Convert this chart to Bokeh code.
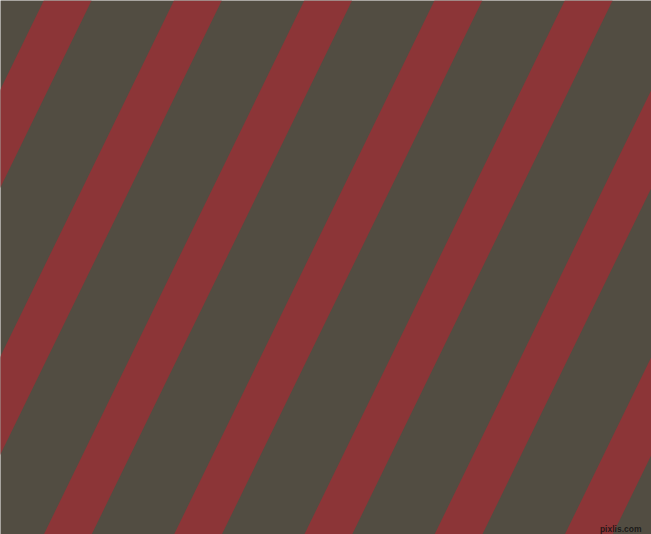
from bokeh.plotting import figure
from bokeh.models import Range1d, ColumnDataSource
from bokeh.embed import file_html
from bokeh.resources import INLINE
from bokeh.core.properties import value

# --- data (in reference pixel coordinates) ---
canvas_w = 651
canvas_h = 534
stripe_top_x = [-217.2, -87.0, 43.3, 173.5, 303.8, 434.0, 564.3, 694.5, 824.8]
stripe_width = [47.8] * len(stripe_top_x)
stripe_shift = 260.5          # horizontal drift of every stripe from top to bottom
bg_color = "#524d42"
stripe_color = "#8c3537"
watermark = ["pixlis.com"]

p = figure(width=canvas_w, height=canvas_h,
           x_range=Range1d(0, canvas_w),
           y_range=Range1d(canvas_h, 0),
           output_backend="svg", toolbar_location=None,
           min_border=0, outline_line_color=None,
           background_fill_color=bg_color, border_fill_color=bg_color)
p.axis.visible = False
p.grid.visible = False

xs, ys = [], []
for x0, w in zip(stripe_top_x, stripe_width):
    xs.append([x0, x0 + w, x0 + w - stripe_shift, x0 - stripe_shift])
    ys.append([0, 0, canvas_h, canvas_h])
p.patches(xs="xs", ys="ys", source=ColumnDataSource(dict(xs=xs, ys=ys)),
          fill_color=stripe_color, line_color=None)

p.text(x=[641], y=[528], text=watermark, text_align="right",
       text_baseline="alphabetic", text_font=value("Liberation Sans"),
       text_font_size="8.5px", text_font_style="bold",
       text_color="#111111", text_alpha=0.85)

open("out.html", "w").write(file_html(p, INLINE))
